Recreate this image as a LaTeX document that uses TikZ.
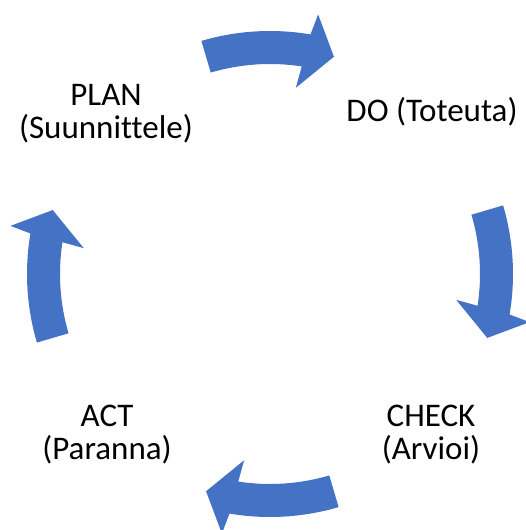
\documentclass[tikz,border=0pt]{standalone}
\usepackage{fontspec}
\setmainfont{Carlito}[Ligatures=NoCommon]
\definecolor{pdcablue}{HTML}{4472C4}
\tikzset{
	cyclearrow/.style={fill=pdcablue, draw=none},
	phase/.style={align=center, anchor=base, inner sep=0pt, font=\fontsize{33}{32.5}\selectfont}
}

\begin{document}
\begin{tikzpicture}[x=1pt, y=1pt]

	\useasboundingbox (0, 0) rectangle (525, 530);

	\pgfmathsetmacro{\rout}{243}
	\pgfmathsetmacro{\rin}{210}
	\pgfmathsetmacro{\rmid}{226.5}
	\pgfmathsetmacro{\halfspan}{16.4}

	% draw 4 curved arrows, clockwise round the cycle
	\begin{scope}[shift={(270, 256)}]
		\foreach \t in {90, 0, -90, 180}
		{
			\fill[cyclearrow]
				(\t + \halfspan : \rin pt) --
				(\t + \halfspan : \rout pt)
				arc[start angle=\t + \halfspan, end angle=\t - 9.6, radius=\rout pt] --
				(\t - 10.5 : 264pt) -- % outer barb
				(\t - \halfspan : \rmid pt) -- % tip
				(\t - 7.9 : 188pt) -- % inner barb
				(\t - 8.7 : \rin pt)
				arc[start angle=\t - 8.7, end angle=\t + \halfspan, radius=\rin pt] --
				cycle;
		}
	\end{scope}

	% draw phase labels (base = last line)
	\node[phase] (plan) at (106, 391.7) {PLAN\\(Suunnittele)};
	\node[phase] (do) at (432, 408.3) {DO (Toteuta)};
	\node[phase] (check) at (431, 70.7) {CHECK\\(Arvioi)};
	\node[phase] (act) at (107, 70.7) {ACT\\(Paranna)};

\end{tikzpicture}
\end{document}
